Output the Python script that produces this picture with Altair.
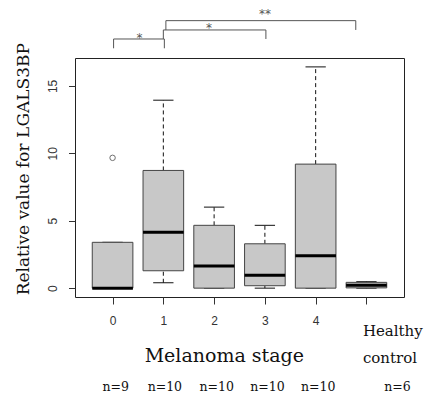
import json
import altair as alt
import pandas as pd

# ---- data ----
positions = [1, 2, 3, 4, 5, 6]
tick_labels = ["0", "1", "2", "3", "4", ""]
whisk_lo = [0.0, 0.40, 0.0, 0.0, 0.0, 0.0]
q1 = [0.0, 1.29, 0.0, 0.18, 0.0, 0.02]
median = [0.0, 4.14, 1.64, 0.95, 2.40, 0.22]
q3 = [3.40, 8.73, 4.66, 3.29, 9.20, 0.43]
whisk_hi = [3.40, 13.94, 6.01, 4.66, 16.41, 0.48]
outlier_pos = [1]
outlier_val = [9.665]

n_labels = ["n=9", "n=10", "n=10", "n=10", "n=10", "n=6"]
n_label_x = [1.06, 2.03, 3.05, 4.05, 5.05, 6.61]

# significance brackets
br_left = [1.02, 2.00, 2.05]
br_right = [2.02, 4.02, 5.79]
br_top = [18.48, 19.15, 19.84]
br_end = [17.79, 18.48, 19.15]
star_text = ["*", "*", "**"]
star_x = [1.53, 2.90, 4.00]
star_y = [18.29, 18.98, 20.07]

# ---- tables ----
box = pd.DataFrame({"pos": positions, "lo": whisk_lo, "q1": q1, "med": median,
                    "q3": q3, "hi": whisk_hi})
box["left"] = box["pos"] - 0.4
box["right"] = box["pos"] + 0.4
box["capl"] = box["pos"] - 0.2
box["capr"] = box["pos"] + 0.2

out = pd.DataFrame({"pos": outlier_pos, "val": outlier_val})
br = pd.DataFrame({"l": br_left, "r": br_right, "top": br_top, "end": br_end})
stars = pd.DataFrame({"x": star_x, "y": star_y, "t": star_text})
ns = pd.DataFrame({"x": n_label_x, "t": n_labels})

xs = alt.Scale(domain=[0.26, 6.74], nice=False, zero=False)
ys = alt.Scale(domain=[-0.656, 17.07], nice=False, zero=False)

label_expr = json.dumps(tick_labels) + "[datum.value - 1]"

xaxis = alt.Axis(values=positions, labelExpr=label_expr, grid=False, domain=False,
                 tickSize=7, tickColor="#333", labelFont="Liberation Sans",
                 labelFontSize=12, labelColor="#333", labelPadding=20,
                 labelBaseline="alphabetic", labelFlush=False, labelOverlap=False,
                 title=None)
yaxis = alt.Axis(values=[0, 5, 10, 15], grid=False, domain=False, tickSize=6.5,
                 tickColor="#333", labelAngle=270, labelAlign="center",
                 labelBaseline="alphabetic", labelPadding=11.6,
                 labelFont="Liberation Sans", labelFontSize=12, labelColor="#333",
                 labelOverlap=False, labelFlush=False,
                 title="Relative value for LGALS3BP", titleFont="DejaVu Serif",
                 titleFontSize=17, titleFontWeight="normal", titleColor="#111",
                 titleAngle=270, titleX=-47, titleY=110.7, titleAlign="center",
                 titleBaseline="alphabetic")


def X(field):
    return alt.X(field, type="quantitative", scale=xs, axis=xaxis)


def Y(field):
    return alt.Y(field, type="quantitative", scale=ys, axis=yaxis)


base = alt.Chart(box)
dash = [4, 3]

whisk_up = base.mark_rule(color="#111", strokeWidth=1, strokeDash=dash).encode(
    x=X("pos"), y=Y("q3"), y2="hi:Q")
whisk_dn = base.mark_rule(color="#111", strokeWidth=1, strokeDash=dash).encode(
    x=X("pos"), y=Y("lo"), y2="q1:Q")
cap_hi = base.mark_rule(color="#111", strokeWidth=1).encode(
    x=X("capl"), x2="capr:Q", y=Y("hi"))
cap_lo = base.mark_rule(color="#111", strokeWidth=1).encode(
    x=X("capl"), x2="capr:Q", y=Y("lo"))
boxes = base.mark_rect(fill="#c8c8c8", stroke="#444", strokeWidth=1).encode(
    x=X("left"), x2="right:Q", y=Y("q1"), y2="q3:Q")
medians = base.mark_rule(color="#000", strokeWidth=3).encode(
    x=X("left"), x2="right:Q", y=Y("med"))
outliers = alt.Chart(out).mark_point(shape="circle", size=30, filled=False,
                                     color="#333", strokeWidth=1).encode(
    x=X("pos"), y=Y("val"))

br_h = alt.Chart(br).mark_rule(color="#555", strokeWidth=1).encode(
    x=X("l"), x2="r:Q", y=Y("top"))
br_vl = alt.Chart(br).mark_rule(color="#555", strokeWidth=1).encode(
    x=X("l"), y=Y("end"), y2="top:Q")
br_vr = alt.Chart(br).mark_rule(color="#555", strokeWidth=1).encode(
    x=X("r"), y=Y("end"), y2="top:Q")
star_marks = alt.Chart(stars).mark_text(font="DejaVu Sans", fontSize=12,
                                        fill="#555", baseline="alphabetic",
                                        align="center").encode(
    x=X("x"), y=Y("y"), text="t:N")

n_marks = alt.Chart(ns).mark_text(font="DejaVu Serif", fontSize=12.5, fill="#111",
                                  baseline="alphabetic", align="center").encode(
    x=X("x"), y=alt.value(332.5), text="t:N")

healthy = alt.Chart(pd.DataFrame({"x": [5.93], "t": ["Healthy"]})).mark_text(
    font="DejaVu Serif", fontSize=15, fill="#111", baseline="alphabetic",
    align="left").encode(x=X("x"), y=alt.value(278), text="t:N")
control = alt.Chart(pd.DataFrame({"x": [5.93], "t": ["control"]})).mark_text(
    font="DejaVu Serif", fontSize=15, fill="#111", baseline="alphabetic",
    align="left").encode(x=X("x"), y=alt.value(305.3), text="t:N")
stage_title = alt.Chart(pd.DataFrame({"x": [3.20], "t": ["Melanoma stage"]})).mark_text(
    font="DejaVu Serif", fontSize=19, fill="#111", baseline="alphabetic",
    align="center").encode(x=X("x"), y=alt.value(303.7), text="t:N")

chart = alt.layer(
    whisk_up, whisk_dn, cap_hi, cap_lo, boxes, medians, outliers,
    br_h, br_vl, br_vr, star_marks, n_marks, healthy, control, stage_title,
).properties(
    width=329, height=239,
    autosize=alt.AutoSizeParams(type="none"),
    padding={"left": 75, "top": 58, "right": 27, "bottom": 99},
    background="white",
).configure_view(stroke="#222", strokeWidth=1)

chart.save("out.html", embed_options={"renderer": "svg", "actions": False})
